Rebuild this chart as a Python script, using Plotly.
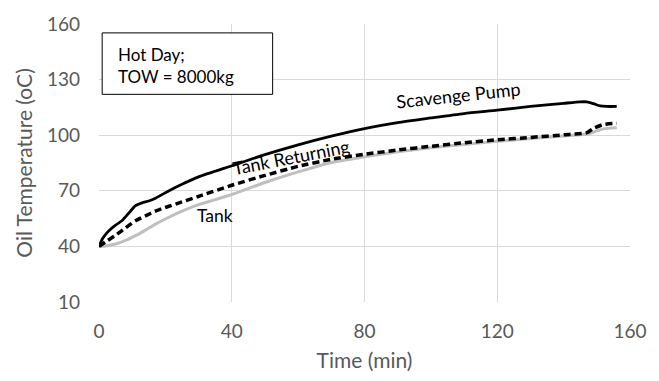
import plotly.graph_objects as go

# Data
scav_t = [0, 1, 2, 3, 5, 7, 9, 11, 13, 15, 17, 20, 25, 30, 40, 50, 60, 70, 80, 90, 100, 110, 120, 130, 140, 145, 147, 149, 151, 153, 156]
scav_T = [40, 44, 46.5, 48.5, 51.5, 54, 58, 62, 63.5, 64.5, 66, 69, 73.5, 77.5, 83.5, 89.5, 94.8, 99.5, 103.6, 106.8, 109.3, 111.7, 113.5, 115.5, 117.2, 118, 118, 117, 115.8, 115.5, 115.5]

ret_t = [0, 2, 5, 8, 11, 14, 17, 20, 25, 30, 40, 50, 60, 70, 80, 90, 100, 110, 120, 130, 140, 147, 149, 152, 156]
ret_T = [40, 42.5, 46, 50, 53.8, 56.5, 59, 61, 64, 67, 73, 78.3, 83.2, 87, 89.7, 92, 94, 95.9, 97.5, 98.8, 100.2, 101.4, 103.7, 105.8, 106.4]

tank_t = [0, 3, 5, 8, 11, 14, 17, 20, 25, 30, 40, 50, 60, 70, 80, 90, 100, 110, 120, 130, 140, 147, 150, 152, 156]
tank_T = [40, 40.5, 41.3, 43.2, 45.8, 48.8, 52, 54.8, 59, 62.5, 68, 74.5, 80.2, 85.3, 88.3, 91, 93.2, 95, 96.7, 98.2, 99.6, 100.6, 102.3, 103.4, 104]

x_ticks = [0, 40, 80, 120, 160]
y_ticks = [10, 40, 70, 100, 130, 160]

FONT = "Lato"
GRAY = "#595959"

fig = go.Figure()
fig.add_trace(go.Scatter(x=tank_t, y=tank_T, mode="lines", name="Tank",
                         line=dict(color="#bfbfbf", width=3, shape="spline", smoothing=0.6)))
fig.add_trace(go.Scatter(x=ret_t, y=ret_T, mode="lines", name="Tank Returning",
                         line=dict(color="black", width=3.5, dash="7px,4px", shape="spline", smoothing=0.6)))
fig.add_trace(go.Scatter(x=scav_t, y=scav_T, mode="lines", name="Scavenge Pump",
                         line=dict(color="black", width=2.8, shape="spline", smoothing=0.6)))

fig.add_annotation(x=108.2, y=121.5, xref="x", yref="y", text="Scavenge Pump", showarrow=False,
                   textangle=-6, font=dict(family=FONT, size=18, color="black"))
fig.add_annotation(x=58, y=88, xref="x", yref="y", text="Tank Returning", showarrow=False,
                   textangle=-11, font=dict(family=FONT, size=18, color="black"))
fig.add_annotation(x=35, y=56.6, xref="x", yref="y", text="Tank", showarrow=False,
                   font=dict(family=FONT, size=17.5, color="black"))

# Info box
fig.add_shape(type="rect", xref="paper", yref="paper", x0=0.006, x1=0.327, y0=0.747, y1=0.968,
              line=dict(color="black", width=1), fillcolor="white", layer="above")
fig.add_annotation(x=0.032, y=0.850, xref="paper", yref="paper", xanchor="left", yanchor="middle",
                   text="Hot Day;<br>TOW = 8000kg", showarrow=False, align="left",
                   font=dict(family=FONT, size=17, color="black"))

fig.update_layout(
    width=659, height=381,
    margin=dict(l=99, r=19, t=20, b=77),
    paper_bgcolor="white", plot_bgcolor="white",
    showlegend=False,
    font=dict(family=FONT, color=GRAY),
)
fig.update_xaxes(range=[0, 160], tickvals=x_ticks, showgrid=True, gridcolor="#d9d9d9", gridwidth=1,
                 zeroline=False, showline=False, ticks="", tickfont=dict(size=19, color=GRAY),
                 ticklabelstandoff=16,
                 title=dict(text="Time (min)", font=dict(size=21, color=GRAY), standoff=12))
fig.update_yaxes(range=[10, 160], tickvals=y_ticks, showgrid=True, gridcolor="#d9d9d9", gridwidth=1,
                 zeroline=False, showline=False, ticks="", tickfont=dict(size=19, color=GRAY),
                 ticklabelstandoff=18,
                 title=dict(text="Oil Temperature (oC)", font=dict(size=21, color=GRAY), standoff=8))

fig.write_html("out.html")
